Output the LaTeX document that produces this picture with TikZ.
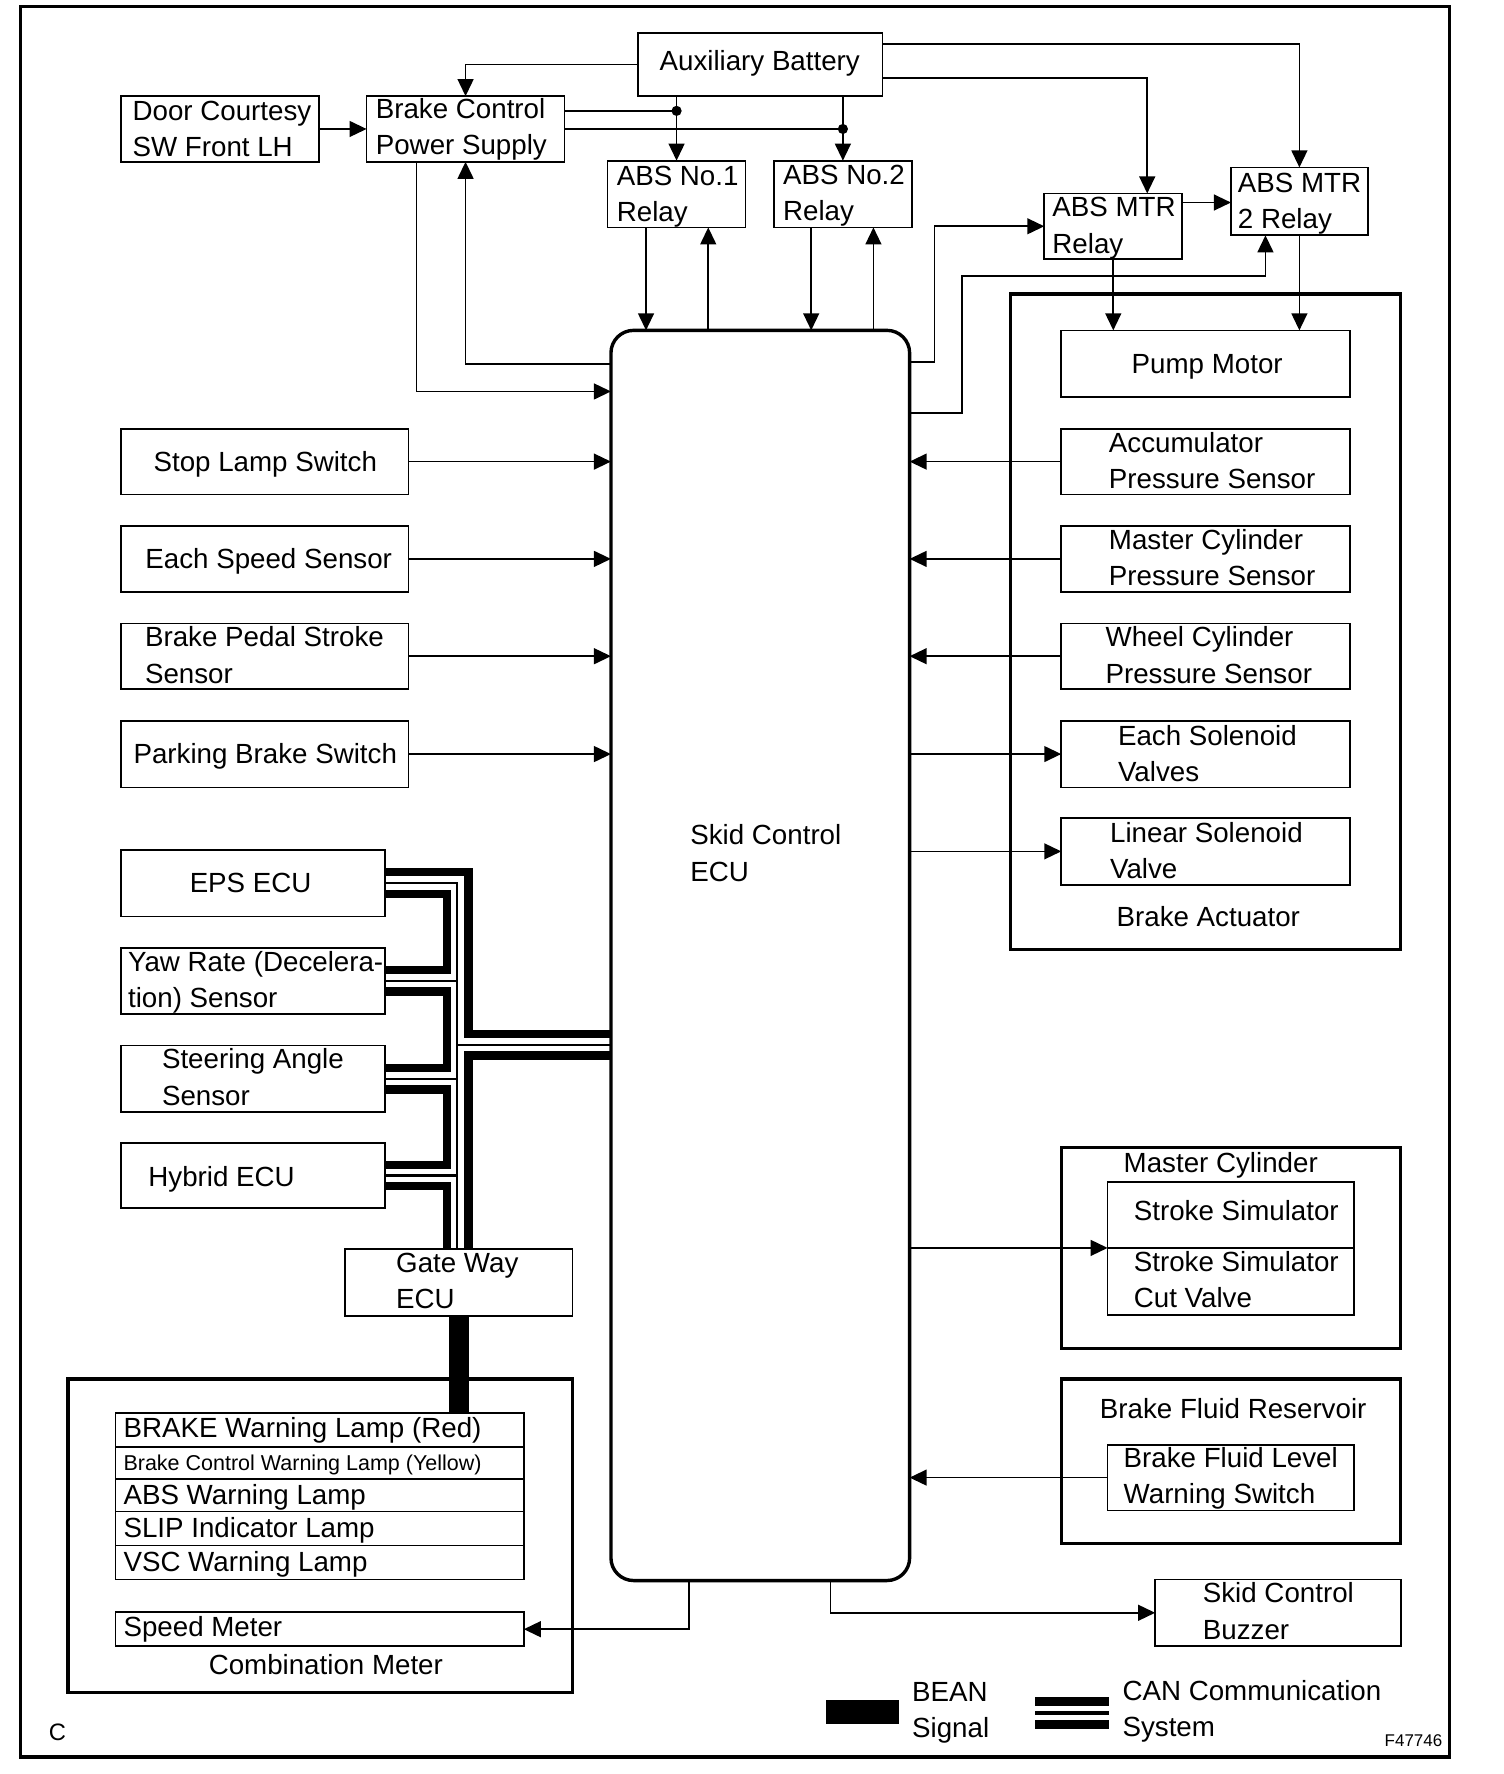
\documentclass[tikz,border=0pt]{standalone}
\usepackage{fontspec}
\setmainfont{Liberation Sans}
\usetikzlibrary{arrows.meta}
\newcommand\fs{\fontsize{24.5}{32}\selectfont}
\newcommand\fss{\fontsize{19}{24}\selectfont}
\newcommand\bx[6][]{\node[box,#1,minimum width={#5-#3},minimum height={#6-#4}] (#2) at (#3,#4) {};}
\tikzset{
 box/.style={draw, rectangle, line width=1.5pt, inner sep=0pt, outer sep=0pt, anchor=north west},
 thickbox/.style={line width=3pt},
 arr/.style={line width=1.5pt, -{Triangle[length=15pt,width=14pt]}},
 ln/.style={line width=1.5pt},
 lbl/.style={inner sep=0pt, font=\fs, align=left, anchor=base west},
 lbltwo/.style={lbl, yshift=-32pt},
 clbl/.style={inner sep=0pt, font=\fs, align=center, anchor=base},
 canthick/.style={line width=7.4pt},
 canthin/.style={line width=2.2pt},
 bean/.style={line width=18pt},
}
\begin{document}
\begin{tikzpicture}[x=1pt,y=-1pt]
\useasboundingbox (0,0) rectangle (1329,1568);
% outer frame
\bx[thickbox]{frame}{18}{6}{1281}{1553}
% top boxes
\bx{bat}{564}{29}{780}{85}
\node[clbl] (t-bat) at (671.5,62.75) {Auxiliary Battery};
\bx{door}{107}{85}{282}{143}
\node[lbltwo] (t-door) at (117,106.75) {Door Courtesy\\SW Front LH};
\bx{bcps}{324}{85}{499}{143}
\node[lbltwo] (t-bcps) at (332,104.75) {Brake Control\\Power Supply};
\bx{abs1}{537}{142}{659}{201}
\node[lbltwo] (t-abs1) at (545,163.75) {ABS No.1\\Relay};
\bx{abs2}{684}{142}{806}{201}
\node[lbltwo] (t-abs2) at (692,162.75) {ABS No.2\\Relay};
\bx{mtr1}{923}{171}{1045}{229}
\node[lbltwo] (t-mtr1) at (930,191.75) {ABS MTR\\Relay};
\bx{mtr2}{1088}{148}{1209}{208}
\node[lbltwo] (t-mtr2) at (1094,169.75) {ABS MTR\\2 Relay};
% ECU
\bx[thickbox,rounded corners=20pt]{ecu}{540}{292}{804}{1397}
\node[lbltwo] (t-ecu) at (610,746.75) {Skid Control\\ECU};
% brake actuator
\bx[thickbox]{act}{893}{260}{1238}{839}
\node[clbl] (t-act) at (1068,818.75) {Brake Actuator};
\bx{pump}{938}{292}{1193}{351}
\node[clbl] (t-pump) at (1067,329.75) {Pump Motor};
\bx{acc}{938}{379}{1193}{437}
\node[lbltwo] (t-acc) at (980,399.75) {Accumulator\\Pressure Sensor};
\bx{mcs}{938}{465}{1193}{523}
\node[lbltwo] (t-mcs) at (980,485.75) {Master Cylinder\\Pressure Sensor};
\bx{wcs}{938}{551}{1193}{609}
\node[lbltwo] (t-wcs) at (977,571.75) {Wheel Cylinder\\Pressure Sensor};
\bx{esv}{938}{637}{1193}{696}
\node[lbltwo] (t-esv) at (988,658.75) {Each Solenoid\\Valves};
\bx{lsv}{938}{723}{1193}{782}
\node[lbltwo] (t-lsv) at (981,744.75) {Linear Solenoid\\Valve};
% left inputs
\bx{sls}{107}{379}{361}{437}
\node[clbl] (t-sls) at (234.5,416.75) {Stop Lamp Switch};
\bx{ess}{107}{465}{361}{523}
\node[clbl] (t-ess) at (237.5,502.75) {Each Speed Sensor};
\bx{bps}{107}{551}{361}{609}
\node[lbltwo] (t-bps) at (128,571.75) {Brake Pedal Stroke\\Sensor};
\bx{pbs}{107}{637}{361}{696}
\node[clbl] (t-pbs) at (234.5,674.75) {Parking Brake Switch};
% CAN boxes
\bx{eps}{107}{751}{340}{810}
\node[clbl] (t-eps) at (221.5,788.75) {EPS ECU};
\bx{yaw}{107}{838}{340}{896}
\node[lbltwo] (t-yaw) at (113,858.75) {Yaw Rate (Decelera-\\tion) Sensor};
\bx{sas}{107}{924}{340}{983}
\node[lbltwo] (t-sas) at (143,944.75) {Steering Angle\\Sensor};
\bx{hyb}{107}{1010}{340}{1068}
\node[lbl] (t-hyb) at (131,1048.75) {Hybrid ECU};
\bx{gw}{305}{1104}{506}{1163}
\node[lbltwo] (t-gw) at (350,1124.75) {Gate Way\\ECU};
% combination meter
\bx[thickbox]{comb}{60}{1219}{506}{1496}
\bx{lamp1}{102}{1249}{463}{1279}
\bx{lamp2}{102}{1279}{463}{1307}
\bx{lamp3}{102}{1307}{463}{1336}
\bx{lamp4}{102}{1336}{463}{1366}
\bx{lamp5}{102}{1366}{463}{1396}
\node[lbl] (t-lamp1) at (109,1270.75) {BRAKE Warning Lamp (Red)};
\node[lbl,font=\fss] (t-lamp2) at (109,1299.8) {Brake Control Warning Lamp (Yellow)};
\node[lbl] (t-lamp3) at (109,1329.75) {ABS Warning Lamp};
\node[lbl] (t-lamp4) at (109,1358.75) {SLIP Indicator Lamp};
\node[lbl] (t-lamp5) at (109,1388.75) {VSC Warning Lamp};
\bx{spd}{102}{1425}{463}{1455}
\node[lbl] (t-spd) at (109,1446.75) {Speed Meter};
\node[clbl] (t-comb) at (288,1479.75) {Combination Meter};
% master cylinder
\bx[thickbox]{mcyl}{938}{1014}{1238}{1192}
\node[clbl] (t-mcyl) at (1079,1036.75) {Master Cylinder};
\bx{ss1}{979}{1045}{1197}{1103}
\bx{ss2}{979}{1103}{1197}{1162}
\node[lbl] (t-ss1) at (1002,1078.75) {Stroke Simulator};
\node[lbltwo] (t-ss2) at (1002,1123.75) {Stroke Simulator\\Cut Valve};
% reservoir
\bx[thickbox]{res}{938}{1219}{1238}{1364}
\node[clbl] (t-res) at (1090,1253.75) {Brake Fluid Reservoir};
\bx{bfl}{979}{1277}{1197}{1335}
\node[lbltwo] (t-bfl) at (993,1296.75) {Brake Fluid Level\\Warning Switch};
% buzzer
\bx{buz}{1021}{1396}{1238}{1455}
\node[lbltwo] (t-buz) at (1063,1416.75) {Skid Control\\Buzzer};
% ---------- connectors ----------
\coordinate (d1) at (598,98);
\coordinate (d2) at (745,114);
\draw[arr] (bat.west) -| (bcps.north);
\draw[arr] (door.east) -- (bcps.west);
\draw[ln] (bcps.east |- d1) -- (d1);
\draw[ln] (bcps.east |- d2) -- (d2);
\draw[arr] (bat.south -| d1) -- (abs1.north);
\draw[arr] (bat.south -| d2) -- (abs2.north);
\fill (d1) circle (4.5);
\fill (d2) circle (4.5);
\draw[arr] (bat.east |- 0,39) -| (mtr2.north);
\draw[arr] (bat.east |- 0,69) -| ([xshift=30pt]mtr1.north);
\draw[arr] (mtr1.east |- 0,179) -- (mtr2.west |- 0,179);
\draw[arr] (mtr1.south) -- (mtr1.south |- pump.north);
\draw[arr] (mtr2.south) -- (mtr2.south |- pump.north);
\draw[arr] (ecu.east |- 0,320) -| (826,200) -- (mtr1.west);
\draw[arr] (ecu.east |- 0,365) -| (850,244) -| ([xshift=-30pt]mtr2.south);
\draw[arr] (bcps.south -| 368,0) |- (ecu.west |- 0,346);
\draw[arr] (ecu.west |- 0,322) -| (bcps.south);
\draw[arr] (abs1.south -| 571,0) -- (ecu.north -| 571,0);
\draw[arr] (ecu.north -| 626,0) -- (abs1.south -| 626,0);
\draw[arr] (abs2.south -| 717,0) -- (ecu.north -| 717,0);
\draw[arr] (ecu.north -| 772,0) -- (abs2.south -| 772,0);
% left inputs
\draw[arr] (sls.east) -- (ecu.west |- sls.east);
\draw[arr] (ess.east) -- (ecu.west |- ess.east);
\draw[arr] (bps.east) -- (ecu.west |- bps.east);
\draw[arr] (pbs.east) -- (ecu.west |- pbs.east);
% right sensors / actuators
\draw[arr] (acc.west) -- (ecu.east |- acc.west);
\draw[arr] (mcs.west) -- (ecu.east |- mcs.west);
\draw[arr] (wcs.west) -- (ecu.east |- wcs.west);
\draw[arr] (ecu.east |- esv.west) -- (esv.west);
\draw[arr] (ecu.east |- lsv.west) -- (lsv.west);
\draw[arr] (ecu.east |- ss2.north west) -- (ss2.north west);
\draw[arr] (bfl.west) -- (ecu.east |- bfl.west);
\draw[arr] (ecu.south -| 609,0) |- (spd.east);
\draw[arr] (ecu.south -| 734,0) |- (buz.west);
% CAN bus
\draw[canthick] (eps.east |- 0,771) -| (414,914) -- (ecu.west |- 0,914);
\draw[canthick] (ecu.west |- 0,933) -| (gw.north -| 414,0);
\draw[canthick] (eps.east |- 0,790) -| (395,857.5) -- (yaw.east |- 0,857.5);
\draw[canthick] (yaw.east |- 0,876.5) -| (395,944) -- (sas.east |- 0,944);
\draw[canthick] (sas.east |- 0,963) -| (395,1029.5) -- (hyb.east |- 0,1029.5);
\draw[canthick] (hyb.east |- 0,1048.5) -| (gw.north -| 395,0);
\draw[canthin] (eps.east |- 0,780.5) -| (gw.north -| 404,0);
\draw[canthin] (yaw.east) -- (404,867);
\draw[canthin] (sas.east) -- (404,953.5);
\draw[canthin] (hyb.east) -- (404,1039);
\draw[canthin] (404,923.5) -- (ecu.west |- 0,923.5);
% BEAN
\draw[bean] (gw.south) -- (gw.south |- lamp1.north);
% legend
\fill (730,1503) rectangle (795,1524);
\node[lbltwo] (t-bean) at (806,1503.75) {BEAN\\Signal};
\fill (915,1500) rectangle (980,1508);
\fill (915,1512.5) rectangle (980,1516);
\fill (915,1520) rectangle (980,1528);
\node[lbltwo] (t-can) at (992,1502.75) {CAN Communication\\System};
\node[lbl,font=\fontsize{21}{24}\selectfont] (t-c) at (43,1538) {C};
\node[inner sep=0pt,anchor=base east,font=\fontsize{15}{18}\selectfont] (t-fig) at (1275,1544) {F47746};
\end{tikzpicture}
\end{document}
